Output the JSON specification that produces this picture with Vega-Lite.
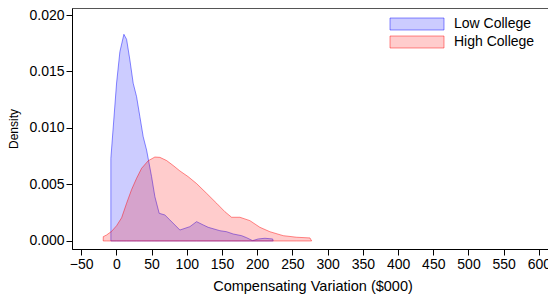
{
  "$schema": "https://vega.github.io/schema/vega-lite/v6.json",
  "width": 481,
  "height": 241,
  "autosize": "none",
  "padding": {"left": 72, "top": 8, "right": 0, "bottom": 48},
  "background": "white",
  "config": {
    "font": "Liberation Sans",
    "view": {"stroke": "#555", "strokeWidth": 1}
  },
  "data": {"values": [
    {"group": "Low College", "x": -7.8, "d": 0},
    {"group": "Low College", "x": -7.8, "d": 0.00732},
    {"group": "Low College", "x": 0.3, "d": 0.01398},
    {"group": "Low College", "x": 5, "d": 0.01675},
    {"group": "Low College", "x": 10.7, "d": 0.01829},
    {"group": "Low College", "x": 14.5, "d": 0.01785},
    {"group": "Low College", "x": 19.2, "d": 0.01602},
    {"group": "Low College", "x": 23.9, "d": 0.01396},
    {"group": "Low College", "x": 28.7, "d": 0.01277},
    {"group": "Low College", "x": 33.4, "d": 0.0110},
    {"group": "Low College", "x": 38.1, "d": 0.00923},
    {"group": "Low College", "x": 42.9, "d": 0.00805},
    {"group": "Low College", "x": 50, "d": 0.00569},
    {"group": "Low College", "x": 54.7, "d": 0.00392},
    {"group": "Low College", "x": 60.8, "d": 0.00245},
    {"group": "Low College", "x": 68.9, "d": 0.0023},
    {"group": "Low College", "x": 76, "d": 0.00186},
    {"group": "Low College", "x": 90.2, "d": 0.00097},
    {"group": "Low College", "x": 104.4, "d": 0.00127},
    {"group": "Low College", "x": 113.9, "d": 0.00171},
    {"group": "Low College", "x": 123.3, "d": 0.00142},
    {"group": "Low College", "x": 130.4, "d": 0.00121},
    {"group": "Low College", "x": 147, "d": 0.00091},
    {"group": "Low College", "x": 156.5, "d": 0.00082},
    {"group": "Low College", "x": 165.9, "d": 0.00062},
    {"group": "Low College", "x": 177.8, "d": 0.00047},
    {"group": "Low College", "x": 184.9, "d": 0.00029},
    {"group": "Low College", "x": 193.5, "d": 0.00003},
    {"group": "Low College", "x": 201.4, "d": 0.00018},
    {"group": "Low College", "x": 210.9, "d": 0.00024},
    {"group": "Low College", "x": 221.9, "d": 0.00018},
    {"group": "Low College", "x": 222.7, "d": 0},
    {"group": "High College", "x": -18.7, "d": 0},
    {"group": "High College", "x": -18.6, "d": 0.00038},
    {"group": "High College", "x": -13.9, "d": 0.00053},
    {"group": "High College", "x": -6.8, "d": 0.00085},
    {"group": "High College", "x": 0.3, "d": 0.00135},
    {"group": "High College", "x": 7.4, "d": 0.00205},
    {"group": "High College", "x": 14.5, "d": 0.00334},
    {"group": "High College", "x": 21.6, "d": 0.00455},
    {"group": "High College", "x": 28.7, "d": 0.00555},
    {"group": "High College", "x": 35.8, "d": 0.00643},
    {"group": "High College", "x": 45.2, "d": 0.0071},
    {"group": "High College", "x": 54.7, "d": 0.00743},
    {"group": "High College", "x": 61.8, "d": 0.0074},
    {"group": "High College", "x": 71.3, "d": 0.00712},
    {"group": "High College", "x": 80.7, "d": 0.00668},
    {"group": "High College", "x": 90.2, "d": 0.0062},
    {"group": "High College", "x": 102, "d": 0.00569},
    {"group": "High College", "x": 113.9, "d": 0.00508},
    {"group": "High College", "x": 128.1, "d": 0.00422},
    {"group": "High College", "x": 142.3, "d": 0.00334},
    {"group": "High College", "x": 154.1, "d": 0.00259},
    {"group": "High College", "x": 163.6, "d": 0.0021},
    {"group": "High College", "x": 175.4, "d": 0.0021},
    {"group": "High College", "x": 189.6, "d": 0.0018},
    {"group": "High College", "x": 203.8, "d": 0.00121},
    {"group": "High College", "x": 218, "d": 0.00082},
    {"group": "High College", "x": 236.9, "d": 0.00047},
    {"group": "High College", "x": 256, "d": 0.00033},
    {"group": "High College", "x": 274.9, "d": 0.00027},
    {"group": "High College", "x": 277.3, "d": 0}
  ]},
  "mark": {"type": "area", "interpolate": "linear", "fillOpacity": 0.2, "strokeOpacity": 0.45, "strokeWidth": 1, "orient": "vertical"},
  "encoding": {
    "x": {
      "field": "x", "type": "quantitative",
      "scale": {"domain": [-63, 620], "nice": false, "zero": false},
      "axis": {
        "title": "Compensating Variation ($000)",
        "values": [-50, 0, 50, 100, 150, 200, 250, 300, 350, 400, 450, 500, 550, 600],
        "grid": false, "domainColor": "black", "tickColor": "black", "tickSize": 6,
        "labelFontSize": 14, "labelColor": "black", "labelPadding": 2, "labelFlush": false,
        "titleFontSize": 14.5, "titleFontWeight": "normal", "titleColor": "black", "titlePadding": 8
      }
    },
    "y": {
      "field": "d", "type": "quantitative", "stack": null,
      "scale": {"domain": [-0.00071, 0.02062], "nice": false, "zero": false},
      "axis": {
        "title": "Density",
        "values": [0, 0.005, 0.01, 0.015, 0.02], "format": ".3f",
        "grid": false, "domainColor": "black", "tickColor": "black", "tickSize": 6,
        "labelFontSize": 14, "labelColor": "black", "labelPadding": 2,
        "titleFontSize": 12, "titleFontWeight": "normal", "titleColor": "black", "titlePadding": 8
      }
    },
    "fill": {
      "field": "group", "type": "nominal",
      "scale": {"domain": ["Low College", "High College"], "range": ["#0000ff", "#ff0000"]},
      "legend": {
        "title": null, "orient": "none", "legendX": 338, "legendY": 9, "padding": 0,
        "symbolType": "M-4.5,-1H4.5V1H-4.5Z", "symbolSize": 144, "symbolStrokeWidth": 1,
        "labelFontSize": 14, "labelColor": "black", "labelOffset": 30, "rowPadding": 2,
        "encode": {"symbols": {"update": {"fillOpacity": {"value": 0.2}, "strokeOpacity": {"value": 0.45}}}}
      }
    },
    "stroke": {
      "field": "group", "type": "nominal",
      "scale": {"domain": ["Low College", "High College"], "range": ["#0000ff", "#ff0000"]},
      "legend": null
    }
  }
}
